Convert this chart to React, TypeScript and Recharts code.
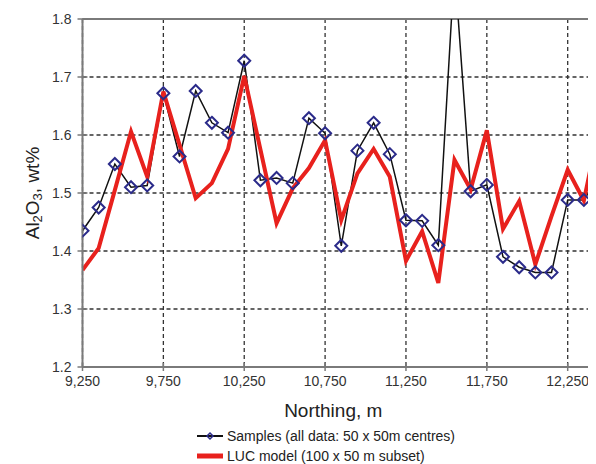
import React from "react";
import { LineChart, Line, XAxis, YAxis, CartesianGrid, ReferenceLine } from "recharts";

// northing of each sample (m)
const northing = [
  9250, 9350, 9450, 9550, 9650, 9750, 9850, 9950, 10050, 10150, 10250,
  10350, 10450, 10550, 10650, 10750, 10850, 10950, 11050, 11150, 11250,
  11350, 11450, 11550, 11650, 11750, 11850, 11950, 12050, 12150, 12250,
  12350, 12450,
];

// Al2O3 wt% – samples (all data: 50 x 50 m centres)
const samples = [
  1.435, 1.475, 1.55, 1.51, 1.513, 1.672, 1.563, 1.676, 1.621, 1.604, 1.728,
  1.522, 1.526, 1.517, 1.629, 1.603, 1.409, 1.573, 1.621, 1.567, 1.453,
  1.452, 1.41, 1.89, 1.503, 1.514, 1.39, 1.372, 1.363, 1.363, 1.488,
  1.488, 1.53,
];

// Al2O3 wt% – LUC model (100 x 50 m subset)
const luc = [
  1.367, 1.405, 1.505, 1.606, 1.528, 1.675, 1.583, 1.491, 1.517, 1.576, 1.702,
  1.575, 1.448, 1.508, 1.543, 1.591, 1.453, 1.534, 1.576, 1.528, 1.383,
  1.434, 1.345, 1.557, 1.506, 1.608, 1.438, 1.486, 1.377, 1.46, 1.54,
  1.487, 1.62,
];

const xTicks = [9250, 9750, 10250, 10750, 11250, 11750, 12250];
const yTicks = [1.2, 1.3, 1.4, 1.5, 1.6, 1.7, 1.8];

const data = northing.map((n, i) => ({ northing: n, samples: samples[i], luc: luc[i] }));

const FONT = "'Liberation Sans', Arial, sans-serif";
const AXIS = "#7a7a7a";
const TEXT = "#333";

const XTick = (props: any) => {
  const { x, y, payload } = props;
  const ay = y - 9;
  return (
    <g>
      <line x1={x} x2={x} y1={ay - 4} y2={ay + 4} stroke={AXIS} strokeWidth={1.5} />
      <text x={x} y={y} dy="0.71em" textAnchor="middle" fontSize={14} fill={TEXT} fontFamily={FONT}>
        {Number(payload.value).toLocaleString("en-US")}
      </text>
    </g>
  );
};

const YTick = (props: any) => {
  const { x, y, payload } = props;
  const ax = x + 11;
  return (
    <g>
      <line x1={ax - 5} x2={ax + 5} y1={y} y2={y} stroke={AXIS} strokeWidth={1.5} />
      <text x={x} y={y} dy="0.36em" textAnchor="end" fontSize={14} fill={TEXT} fontFamily={FONT}>
        {Number(payload.value).toFixed(1)}
      </text>
    </g>
  );
};

const Diamond = (props: any) => {
  const { cx, cy, index } = props;
  if (cx == null || cy == null) return <g key={index} />;
  const r = 6;
  return (
    <polygon
      key={index}
      points={`${cx},${cy - r} ${cx + r},${cy} ${cx},${cy + r} ${cx - r},${cy}`}
      fill="none"
      stroke="#2b2b8a"
      strokeWidth={2}
    />
  );
};

const yTitle = (props: any) => {
  const vb = props.viewBox || { x: 0, y: 11, width: 74, height: 348 };
  const cx = 24;
  const cy = vb.y + vb.height / 2;
  return (
    <text
      x={cx}
      y={cy}
      transform={`rotate(-90, ${cx}, ${cy})`}
      textAnchor="middle"
      dominantBaseline="central"
      fontSize={19}
      fill="#222"
      fontFamily={FONT}
    >
      Al<tspan fontSize={13} dy={5}>2</tspan>
      <tspan dy={-5}>O</tspan>
      <tspan fontSize={13} dy={5}>3</tspan>
      <tspan dy={-5}>, wt%</tspan>
    </text>
  );
};

export default function App() {
  return (
    <div style={{ position: "relative", width: 588, height: 456, fontFamily: FONT }}>
      <LineChart width={588} height={456} data={data} margin={{ top: 11, right: 0, bottom: 40, left: 0 }}>
        <CartesianGrid stroke="#333" strokeWidth={1.3} strokeDasharray="4 3" />
        <XAxis
          dataKey="northing"
          type="number"
          domain={[9250, 12425]}
          allowDataOverflow
          ticks={xTicks}
          interval={0}
          height={57}
          tickSize={4}
          tickMargin={5}
          tickLine={false}
          axisLine={{ stroke: AXIS, strokeWidth: 2 }}
          tick={<XTick />}
          label={{
            value: "Northing, m",
            position: "insideBottom",
            offset: 7,
            dx: -6,
            fontSize: 19,
            fill: "#222",
            fontFamily: FONT,
          }}
        />
        <YAxis
          type="number"
          domain={[1.2, 1.8]}
          allowDataOverflow
          ticks={yTicks}
          interval={0}
          width={74.5}
          tickSize={5}
          tickMargin={6}
          tickLine={false}
          axisLine={{ stroke: AXIS, strokeWidth: 2 }}
          tick={<YTick />}
          label={yTitle}
        />
        <ReferenceLine y={1.8} stroke={AXIS} strokeWidth={2} />
        <Line
          dataKey="samples"
          type="linear"
          stroke="#111"
          strokeWidth={1.5}
          dot={<Diamond />}
          activeDot={false}
          isAnimationActive={false}
        />
        <Line
          dataKey="luc"
          type="linear"
          stroke="#e8211d"
          strokeWidth={4}
          strokeLinejoin="miter"
          dot={false}
          activeDot={false}
          isAnimationActive={false}
        />
      </LineChart>
      <div style={{ position: "absolute", left: 189, top: 418, fontSize: 14, color: "#222", lineHeight: "20px" }}>
        <div style={{ display: "flex", alignItems: "center" }}>
          <svg width={28} height={12} style={{ marginRight: 2 }}>
            <line x1={0} x2={26} y1={6} y2={6} stroke="#111" strokeWidth={2} />
            <polygon points="13,3 16,6 13,9 10,6" fill="none" stroke="#2b2b8a" strokeWidth={1.5} />
          </svg>
          <span>Samples (all data: 50 x 50m centres)</span>
        </div>
        <div style={{ display: "flex", alignItems: "center" }}>
          <svg width={28} height={12} style={{ marginRight: 2 }}>
            <line x1={0} x2={26} y1={6} y2={6} stroke="#e8211d" strokeWidth={5} />
          </svg>
          <span>LUC model (100 x 50 m subset)</span>
        </div>
      </div>
    </div>
  );
}
